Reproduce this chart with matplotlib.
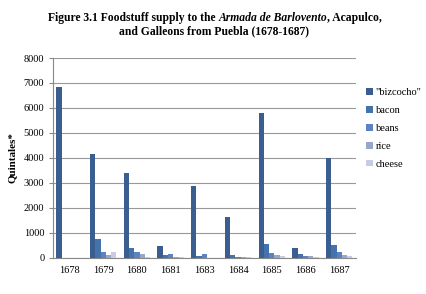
import matplotlib.pyplot as plt
import numpy as np

# 年份（1682年缺失）
years = ["1678", "1679", "1680", "1681", "1683", "1684", "1685", "1686", "1687"]
bizcocho = [6830, 4170, 3380, 450, 2890, 1630, 5780, 390, 4010]
bacon = [0, 730, 390, 120, 80, 100, 560, 130, 490]
beans = [0, 210, 230, 130, 140, 40, 190, 60, 225]
rice = [0, 100, 150, 40, 0, 10, 90, 60, 100]
cheese = [0, 210, 20, 20, 0, 20, 50, 40, 70]

series = [
    ('"bizcocho"', bizcocho, "#3a5e8f"),
    ("bacon", bacon, "#4472ab"),
    ("beans", beans, "#5b83c3"),
    ("rice", rice, "#97a6c9"),
    ("cheese", cheese, "#c8cce0"),
]

plt.rcParams["font.family"] = ["Liberation Serif", "DejaVu Serif"]

fig = plt.figure(figsize=(4.27, 2.94), dpi=100)
ax = fig.add_axes([52.7 / 427, 36.3 / 294, 303.3 / 427, 199.7 / 294])

x = np.arange(len(years))
w = 0.157
for i, (name, vals, color) in enumerate(series):
    ax.bar(x + (i - 2) * w, vals, width=w, color=color, label=name, zorder=3)

ax.set_xlim(-0.5, len(years) - 0.5)
ax.set_ylim(0, 8000)
ax.set_yticks(range(0, 8001, 1000))
ax.set_xticks(x)
ax.set_xticklabels(years)
ax.tick_params(axis="x", length=0, labelsize=7.5, pad=6)
ax.tick_params(axis="y", length=3, labelsize=7.5, color="#888888", pad=3)
ax.grid(axis="y", color="#999999", linewidth=0.8, zorder=0)
for s in ["top", "right"]:
    ax.spines[s].set_visible(False)
ax.spines["left"].set_color("#888888")
ax.spines["bottom"].set_color("#888888")
ax.set_ylabel("Quintales*", fontsize=8, fontweight="bold", labelpad=5)

# 标题：分段放置，中间一段为斜体
title_size = 8.4
pieces = [
    ("Figure 3.1 Foodstuff supply to the ", "normal"),
    ("Armada de Barlovento", "italic"),
    (", Acapulco,", "normal"),
]
fig.canvas.draw()
renderer = fig.canvas.get_renderer()
texts = []
for s, style in pieces:
    t = fig.text(0, 1 - 18 / 294, s, fontsize=title_size, fontweight="bold",
                 fontstyle=style, va="center", ha="left")
    texts.append(t)
widths = [t.get_window_extent(renderer).width for t in texts]
x0 = 215 - sum(widths) / 2
for t, wd in zip(texts, widths):
    t.set_x(x0 / 427)
    x0 += wd
fig.text(214 / 427, 1 - 31.5 / 294, "and Galleons from Puebla (1678-1687)",
         ha="center", va="center", fontsize=title_size, fontweight="bold")

ax.legend(loc="upper left", bbox_to_anchor=(1.0, 0.90), frameon=False,
          fontsize=7.5, handlelength=0.6, handleheight=0.6, handletextpad=0.3,
          labelspacing=0.85, borderaxespad=0.6)

fig.savefig("out.png", dpi=100)
